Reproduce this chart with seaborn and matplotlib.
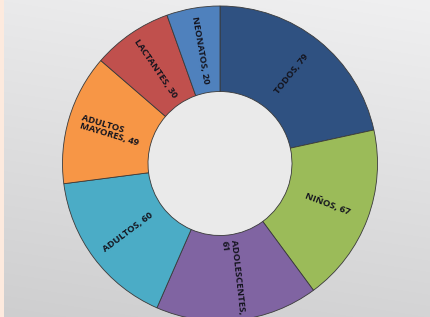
import numpy as np
import seaborn as sns
import matplotlib
matplotlib.use("Agg")
import matplotlib.pyplot as plt  # type: ignore
from matplotlib.patches import Circle

# Data (clockwise from the top)
groups = ["TODOS", "NIÑOS", "ADOLESCENTES", "ADULTOS", "ADULTOS MAYORES", "LACTANTES", "NEONATOS"]
counts = [79, 67, 61, 60, 49, 30, 20]
labels = ["TODOS, 79", "NIÑOS, 67", "ADOLESCENTES,\n61", "ADULTOS, 60",
          "ADULTOS\nMAYORES, 49", "LACTANTES, 30", "NEONATOS, 20"]
colors = ["#2F5181", "#9BBB59", "#8064A2", "#4BACC6", "#F79646", "#C0504D", "#4F81BD"]

sns.set_theme(style="white")
plt.rcParams["font.family"] = ["Open Sans", "DejaVu Sans"]

W, H, DPI = 430, 317, 100
fig = plt.figure(figsize=(W / DPI, H / DPI), dpi=DPI)

# Gray slide background: lighter at the top right, darker toward the bottom left
bg = fig.add_axes([0, 0, 1, 1])
yy, xx = np.mgrid[0:H, 0:W]
shade = 240 - 28 * (yy / H) - 6 * (1 - xx / W)
img = np.dstack([shade, shade, shade + 1]) / 255.0
img[:, :4] = np.array([253, 234, 222]) / 255.0
bg.imshow(np.clip(img, 0, 1), aspect="auto", extent=(0, W, H, 0))
bg.axis("off")

# Donut: centre at (220, 163.5) px, outer radius 157.5 px
cx, cy, R = 220, 163.5, 157.5
ax = fig.add_axes([0, 0, 1, 1])
ax.patch.set_alpha(0)
ax.axis("off")

inner = 72 / R
wedges, _ = ax.pie(counts, colors=colors, startangle=90, counterclock=False,
                   radius=1.0,
                   wedgeprops=dict(width=1 - inner, edgecolor="#3a3a3a", linewidth=0.6))
ax.add_patch(Circle((0, 0), inner, facecolor="#EAEAEA", edgecolor="none", zorder=0))

# Labels along the radial direction, flipped to stay readable
r_lab = (1 + inner) / 2
for w, lab in zip(wedges, labels):
    mid = (w.theta1 + w.theta2) / 2
    x, y = r_lab * np.cos(np.radians(mid)), r_lab * np.sin(np.radians(mid))
    rot = ((mid + 90) % 180) - 90
    ax.text(x, y, lab, rotation=rot, rotation_mode="anchor", ha="center", va="center",
            fontsize=6.8, fontweight="bold", color="#14141e", multialignment="left",
            linespacing=1.0)

ax.set_aspect("equal", adjustable="datalim")
ax.set_xlim(-cx / R, (W - cx) / R)
ax.set_ylim(-(H - cy) / R, cy / R)

fig.savefig("out.png", dpi=DPI)
